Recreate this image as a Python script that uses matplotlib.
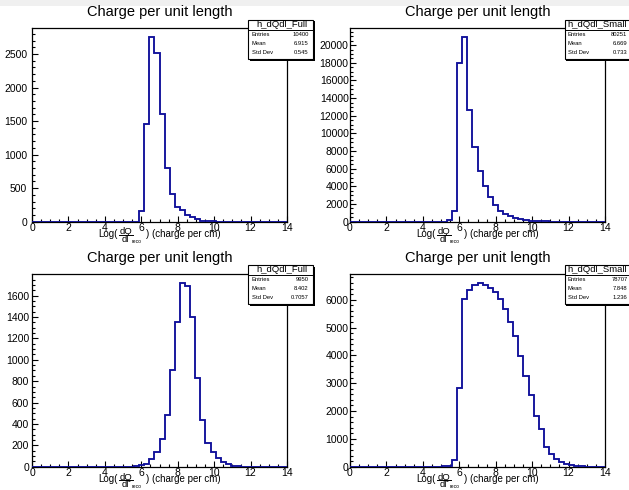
import numpy as np
import matplotlib
matplotlib.use("Agg")
import matplotlib.pyplot as plt
from matplotlib.patches import Rectangle
from matplotlib.lines import Line2D
from matplotlib.ticker import MultipleLocator

plt.rcParams['font.family'] = ['Liberation Sans', 'DejaVu Sans']

# ---------------- data ----------------
x_min, x_max, n_bins = 0.0, 14.0, 50
title = "Charge per unit length"
# x-axis label pieces:  Log( dQ/dl _reco ) (charge per cm)
xl_pre = "Log("
xl_num = "dQ"
xl_den = "dl"
xl_sub = "reco"
xl_post = ") (charge per cm)"
x_ticks = [0, 2, 4, 6, 8, 10, 12, 14]

# lower edge of first listed bin, then bin contents
tl_start = 5.88
tl_counts = [160, 1450, 2750, 2510, 1610, 805, 420, 225, 175, 95, 65, 40, 15, 10, 5]

tr_start = 5.32
tr_counts = [150, 1200, 18000, 20900, 12600, 8450, 5800, 4050, 2800, 1850, 1250,
             850, 600, 400, 260, 180, 120, 80, 50, 30, 20, 10]

bl_start = 5.60
bl_counts = [5, 12, 24, 70, 135, 255, 485, 900, 1352, 1714, 1693, 1398, 830, 438,
             224, 137, 78, 48, 25, 10, 4]

br_start = 5.04
br_counts = [20, 40, 238, 2821, 6024, 6345, 6524, 6583, 6524, 6429, 6274, 6012, 5679,
             5202, 4679, 3964, 3274, 2560, 1821, 1345, 714, 464, 262, 167, 95, 71,
             36, 10, 5]

stat_names = ["h_dQdl_Full", "h_dQdl_Small", "h_dQdl_Full", "h_dQdl_Small"]
stat_entries = ["10400", "80251", "9950", "78707"]
stat_means = ["6.915", "6.669", "8.402", "7.848"]
stat_stds = ["0.545", "0.733", "0.7057", "1.236"]
y_major = [500, 2000, 200, 1000]
y_minor = [100, 500, 50, 200]

# ---------------- figure ----------------
W, H = 629, 490
fig = plt.figure(figsize=(W / 100, H / 100), dpi=100)
fig.patch.set_facecolor('white')

def fx(px):
    return px / W

def fy(py):
    return 1 - py / H

# light gray band at top of canvas
fig.patches.append(Rectangle((0, fy(6)), 1, 6 / H, transform=fig.transFigure,
                             facecolor='#f0f0f0', edgecolor='none', zorder=0))

edges = np.linspace(x_min, x_max, n_bins + 1)
bw = (x_max - x_min) / n_bins

def full_hist(start, counts):
    vals = np.zeros(n_bins)
    i0 = int(round((start - x_min) / bw))
    vals[i0:i0 + len(counts)] = counts
    return vals

hists = [full_hist(tl_start, tl_counts), full_hist(tr_start, tr_counts),
         full_hist(bl_start, bl_counts), full_hist(br_start, br_counts)]

# frame geometry in pixels (left, top, right, bottom)
frames = [(32, 28, 287, 221.7), (350, 28, 605, 221.7),
          (32, 274.3, 287, 466.7), (350, 274.3, 605, 466.7)]
ylab_pad = [3.5, 1.0, 2.0, 1.0]
boxes = [(248, 20, 313, 59.3), (564.5, 20, 634, 59.3),
         (248, 265, 313, 304.3), (564.5, 265, 634, 304.3)]

line_col = '#10109a'

def ftext(px, py, s, **kw):
    fig.text(fx(px), fy(py), s, **kw)

for k in range(4):
    l, t, r, b = frames[k]
    ax = fig.add_axes([fx(l), fy(b), (r - l) / W, (b - t) / H])
    vals = hists[k]
    ax.stairs(vals, edges, baseline=0, color=line_col, lw=1.35, zorder=3)
    ax.set_xlim(x_min, x_max)
    ax.set_ylim(0, 1.05 * vals.max())
    ax.set_xticks(x_ticks)
    ax.xaxis.set_minor_locator(MultipleLocator(0.5))
    ax.yaxis.set_major_locator(MultipleLocator(y_major[k]))
    ax.yaxis.set_minor_locator(MultipleLocator(y_minor[k]))
    ax.tick_params(axis='both', which='both', direction='in', top=False, right=False,
                   labelsize=7.5, width=0.8)
    ax.tick_params(axis='x', which='major', length=4.0, pad=0.8)
    ax.tick_params(axis='x', which='minor', length=2.0)
    ax.tick_params(axis='y', which='major', length=4.0, pad=ylab_pad[k])
    ax.tick_params(axis='y', which='minor', length=2.0)
    for s in ax.spines.values():
        s.set_linewidth(0.9)
        s.set_color('black')

    # x label composed of pieces (ROOT TLatex style fraction)
    cx = (l + r) / 2
    dy = 5.6
    ftext(cx - 61, b + 9.6 + dy, xl_pre, ha='left', va='baseline', fontsize=7)
    ftext(cx - 33.8, b + 7.2 + dy, xl_num, ha='center', va='baseline', fontsize=6.8)
    fig.lines.append(Line2D([fx(cx - 41), fx(cx - 26.5)],
                            [fy(b + 8.1 + dy), fy(b + 8.1 + dy)],
                            transform=fig.transFigure, color='black', lw=0.7))
    ftext(cx - 33.8, b + 14.6 + dy, xl_den, ha='center', va='baseline', fontsize=6.8)
    ftext(cx - 27.5, b + 14.4 + dy, xl_sub, ha='left', va='center', fontsize=3.6)
    ftext(cx - 13.5, b + 9.6 + dy, xl_post, ha='left', va='baseline', fontsize=7)

    # title
    ftext(cx, t - 16, title, ha='center', va='center', fontsize=10.5)

    # stats box
    bl_, bt, br_, bb = boxes[k]
    fig.patches.append(Rectangle((fx(bl_ + 1.5), fy(bb + 1.5)), (br_ - bl_) / W,
                                 (bb - bt) / H, transform=fig.transFigure,
                                 facecolor='black', edgecolor='none', zorder=10))
    fig.patches.append(Rectangle((fx(bl_), fy(bb)), (br_ - bl_) / W, (bb - bt) / H,
                                 transform=fig.transFigure, facecolor='white',
                                 edgecolor='black', lw=0.8, zorder=11))
    fig.lines.append(Line2D([fx(bl_), fx(br_)], [fy(bt + 10), fy(bt + 10)],
                            transform=fig.transFigure, color='black', lw=0.7,
                            zorder=12))
    vis_right = min(br_, 628.5)
    ftext((bl_ + vis_right) / 2 + 1, bt + 4.6, stat_names[k], ha='center',
          va='center', fontsize=6.8, zorder=13)
    rows = [("Entries", stat_entries[k]), ("Mean", stat_means[k]),
            ("Std Dev", stat_stds[k])]
    for j, (nm, v) in enumerate(rows):
        yy = bt + 14.7 + 9 * j
        ftext(bl_ + 3.5, yy, nm, ha='left', va='center', fontsize=4.2, zorder=13)
        ftext(min(br_ - 4.5, 627.5), yy, v, ha='right', va='center', fontsize=4.2,
              zorder=13)

fig.savefig("out.png", dpi=100, facecolor='white')
